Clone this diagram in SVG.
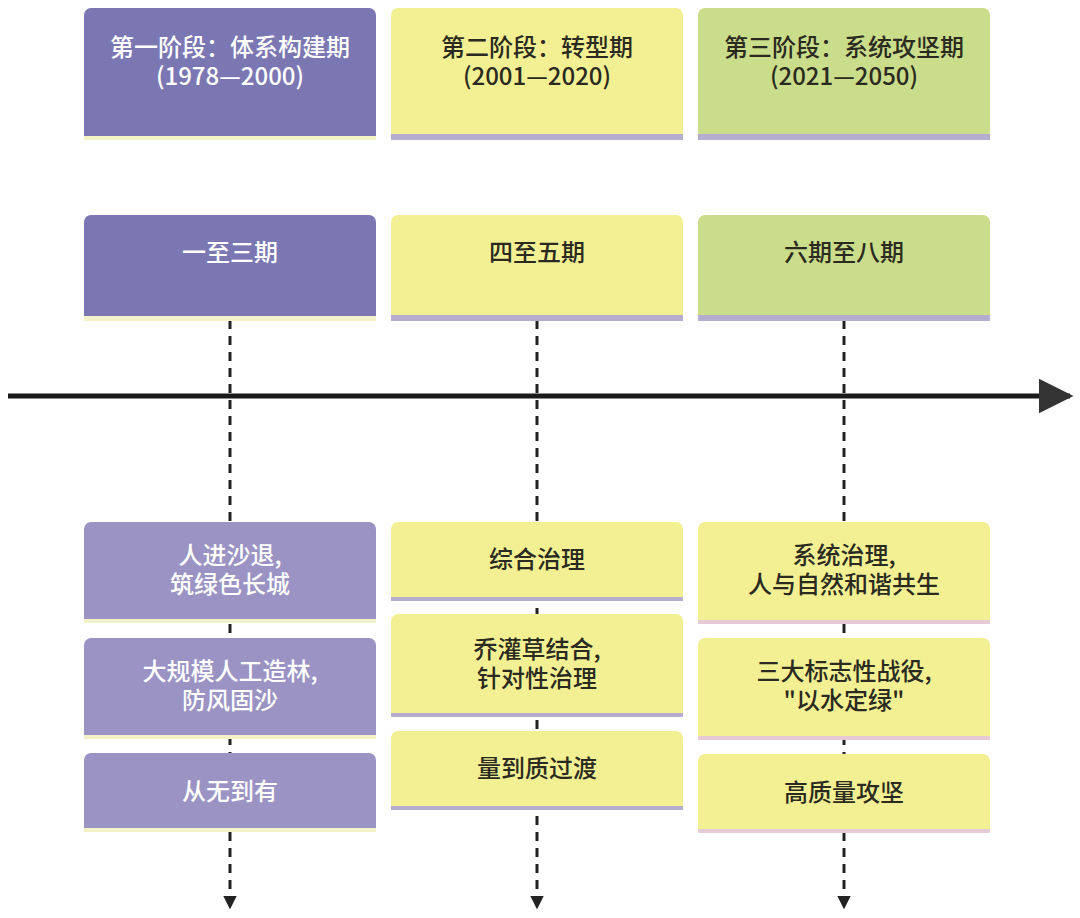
<svg xmlns="http://www.w3.org/2000/svg" width="1080" height="918" viewBox="0 0 1080 918">
<defs>
<style>
.t{font-family:"Noto Sans CJK SC","Noto Sans",sans-serif;font-size:24px;font-weight:500;text-anchor:middle}
.w{fill:#ffffff}
.d{fill:#2a2a20}
.p1{fill:#7b77b3}
.p2{fill:#9a93c3}
.y{fill:#f3f094}
.g{fill:#cadd8b}
.sy{fill:#f4f2c8}
.sp{fill:#b5adcf}
.sk{fill:#e6cbd6}
.dash{stroke:#222;stroke-width:3;stroke-dasharray:9 7;fill:none}
</style>
<marker id="ah" viewBox="0 0 10 10" refX="9" refY="5" markerWidth="4.5" markerHeight="4.5" orient="auto" markerUnits="strokeWidth">
<path d="M0,0 L10,5 L0,10 Z" fill="#222"/>
</marker>
<marker id="big" viewBox="0 0 10 10" refX="9" refY="5" markerWidth="7" markerHeight="7" orient="auto" markerUnits="strokeWidth">
<path d="M0,0 L10,5 L0,10 Z" fill="#333"/>
</marker>
</defs>
<rect width="1080" height="918" fill="#ffffff"/>

<g id="connectors">
<line x1="8" y1="396" x2="1070" y2="396" stroke="#1a1a1a" stroke-width="5" marker-end="url(#big)"/>
<line class="dash" x1="230" y1="320" x2="230" y2="908" marker-end="url(#ah)"/>
<line class="dash" x1="537" y1="320" x2="537" y2="908" marker-end="url(#ah)"/>
<line class="dash" x1="844" y1="320" x2="844" y2="908" marker-end="url(#ah)"/>
</g>

<g id="stage1">
<rect class="sy" x="84" y="133" width="292" height="7"/>
<rect class="p1" x="84" y="8" width="292" height="128" rx="7"/>
<rect class="p1" x="84" y="120" width="292" height="16"/>
<text class="t w" x="230" y="56">第一阶段：体系构建期</text>
<text class="t w" x="230" y="85">(1978—2000)</text>
</g>
<g id="stage2">
<rect class="sp" x="391" y="133" width="292" height="7"/>
<rect class="y" x="391" y="8" width="292" height="126" rx="7"/>
<rect class="y" x="391" y="120" width="292" height="14"/>
<text class="t d" x="537" y="56">第二阶段：转型期</text>
<text class="t d" x="537" y="85">(2001—2020)</text>
</g>
<g id="stage3">
<rect class="sp" x="698" y="133" width="292" height="7"/>
<rect class="g" x="698" y="8" width="292" height="126" rx="7"/>
<rect class="g" x="698" y="120" width="292" height="14"/>
<text class="t d" x="844" y="56">第三阶段：系统攻坚期</text>
<text class="t d" x="844" y="85">(2021—2050)</text>
</g>

<g id="period1">
<rect class="sy" x="84" y="314" width="292" height="7"/>
<rect class="p1" x="84" y="215" width="292" height="101" rx="7"/>
<rect class="p1" x="84" y="300" width="292" height="16"/>
<text class="t w" x="230" y="261">一至三期</text>
</g>
<g id="period2">
<rect class="sp" x="391" y="315" width="292" height="6"/>
<rect class="y" x="391" y="215" width="292" height="100" rx="7"/>
<rect class="y" x="391" y="300" width="292" height="15"/>
<text class="t d" x="537" y="261">四至五期</text>
</g>
<g id="period3">
<rect class="sp" x="698" y="315" width="292" height="6"/>
<rect class="g" x="698" y="215" width="292" height="100" rx="7"/>
<rect class="g" x="698" y="300" width="292" height="15"/>
<text class="t d" x="844" y="261">六期至八期</text>
</g>

<g id="c1b1">
<rect class="sy" x="84" y="617" width="292" height="6"/>
<rect class="p2" x="84" y="522" width="292" height="97" rx="7"/>
<rect class="p2" x="84" y="605" width="292" height="14"/>
<text class="t w" x="230" y="564">人进沙退,</text>
<text class="t w" x="230" y="593">筑绿色长城</text>
</g>
<g id="c1b2">
<rect class="sy" x="84" y="733" width="292" height="6"/>
<rect class="p2" x="84" y="638" width="292" height="97" rx="7"/>
<rect class="p2" x="84" y="720" width="292" height="15"/>
<text class="t w" x="230" y="680">大规模人工造林,</text>
<text class="t w" x="230" y="709">防风固沙</text>
</g>
<g id="c1b3">
<rect class="sy" x="84" y="826" width="292" height="6"/>
<rect class="p2" x="84" y="753" width="292" height="75" rx="7"/>
<rect class="p2" x="84" y="814" width="292" height="14"/>
<text class="t w" x="230" y="800">从无到有</text>
</g>

<g id="c2b1">
<rect class="sp" x="391" y="596" width="292" height="5"/>
<rect class="y" x="391" y="522" width="292" height="75" rx="7"/>
<rect class="y" x="391" y="583" width="292" height="14"/>
<text class="t d" x="537" y="568">综合治理</text>
</g>
<g id="c2b2">
<rect class="sp" x="391" y="712" width="292" height="5"/>
<rect class="y" x="391" y="614" width="292" height="99" rx="7"/>
<rect class="y" x="391" y="699" width="292" height="14"/>
<text class="t d" x="537" y="658">乔灌草结合,</text>
<text class="t d" x="537" y="687">针对性治理</text>
</g>
<g id="c2b3">
<rect class="sp" x="391" y="805" width="292" height="5"/>
<rect class="y" x="391" y="731" width="292" height="75" rx="7"/>
<rect class="y" x="391" y="792" width="292" height="14"/>
<text class="t d" x="537" y="777">量到质过渡</text>
</g>

<g id="c3b1">
<rect class="sk" x="698" y="619" width="292" height="5"/>
<rect class="y" x="698" y="522" width="292" height="98" rx="7"/>
<rect class="y" x="698" y="606" width="292" height="14"/>
<text class="t d" x="844" y="564">系统治理,</text>
<text class="t d" x="844" y="593">人与自然和谐共生</text>
</g>
<g id="c3b2">
<rect class="sk" x="698" y="735" width="292" height="5"/>
<rect class="y" x="698" y="638" width="292" height="98" rx="7"/>
<rect class="y" x="698" y="722" width="292" height="14"/>
<text class="t d" x="844" y="680">三大标志性战役,</text>
<text class="t d" x="844" y="709">"以水定绿"</text>
</g>
<g id="c3b3">
<rect class="sk" x="698" y="828" width="292" height="5"/>
<rect class="y" x="698" y="754" width="292" height="75" rx="7"/>
<rect class="y" x="698" y="815" width="292" height="14"/>
<text class="t d" x="844" y="801">高质量攻坚</text>
</g>
</svg>
